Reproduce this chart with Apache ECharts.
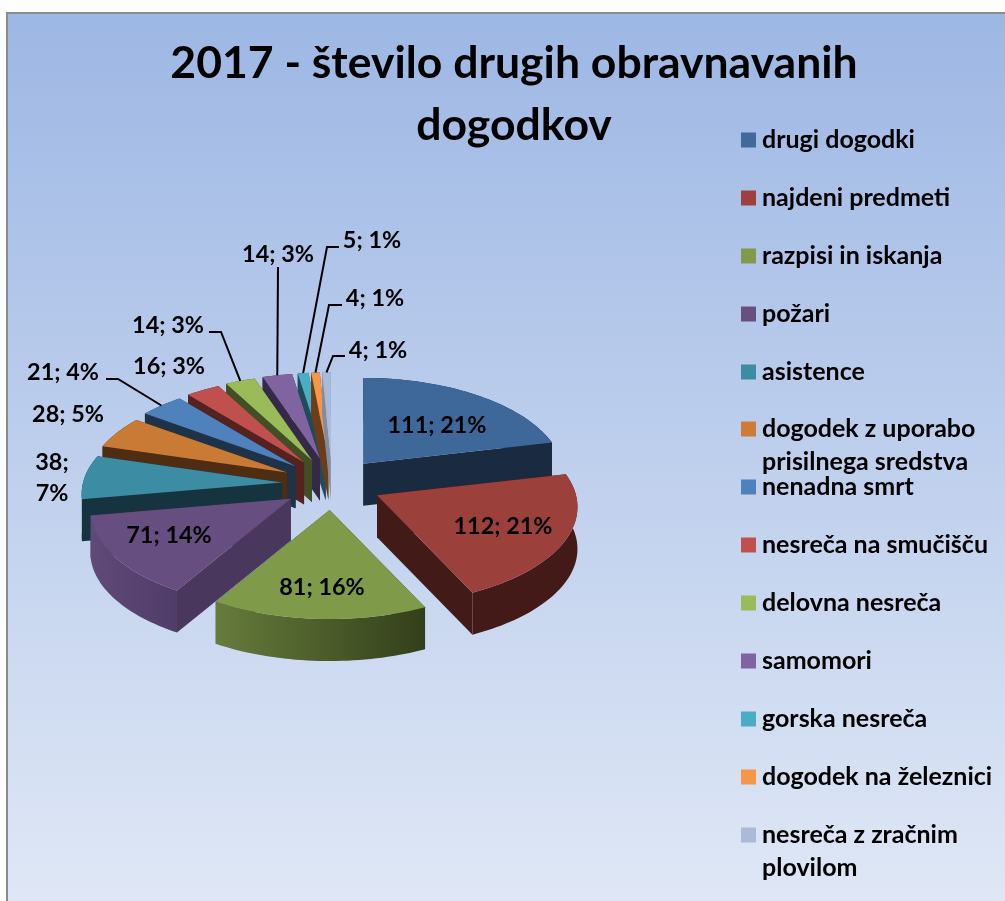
<!DOCTYPE html>
<html><head><meta charset="utf-8">
<style>html,body{margin:0;padding:0;background:#fff}#c{width:1005px;height:901px}</style>
<script src="https://cdn.jsdelivr.net/npm/echarts@6/dist/echarts.min.js"></script>
</head><body><div id="c"></div>
<script>
const titleText = '2017 - število drugih obravnavanih\ndogodkov';
const categories = ['drugi dogodki','najdeni predmeti','razpisi in iskanja','požari','asistence',
  'dogodek z uporabo\nprisilnega sredstva','nenadna smrt','nesreča na smučišču','delovna nesreča',
  'samomori','gorska nesreča','dogodek na železnici','nesreča z zračnim\nplovilom'];
const values = [111,112,81,71,38,28,21,16,14,14,5,4,4];
const percents = [21,21,16,14,7,5,4,3,3,3,1,1,1];

const topColors = ['#3E6899','#9C403C','#7F9A48','#664E80','#3C8CA3','#C97A35','#4F81BD','#C0504D','#9BBB59','#8064A2','#4BACC6','#F79646','#AABBD9'];
const sideColors = ['#1A2A40','#421A18','#35401C','#4A375E','#16343F','#4F2D12','#1E3248','#552220','#414F25','#35294A','#1F4C58','#6B3D18','#7F8CA3'];
const rimLeft = ['#1A2A40','#431A18','#667C3C','#604A78','#16343F','#4F2D12','#1E3248','#552220','#414F25','#35294A','#1F4C58','#6B3D18','#7F8CA3'];
const rimRight = ['#1A2A40','#431A18','#333F1A','#503C68','#16343F','#4F2D12','#1E3248','#552220','#414F25','#35294A','#1F4C58','#6B3D18','#7F8CA3'];
const legendColors = ['#416A9A','#9E413E','#80994A','#67507F','#3C8CA4','#CC7B38','#4F81BD','#C0504D','#9BBB59','#8064A2','#4BACC6','#F79646','#AABAD7'];

/* label anchors (centre of text), and optional leader-line knee points */
const labelAt = [[437,425],[503,526],[322,587],[169,535],[52,478],[68,414],[63,372],[169,366],[168,325],[278,254],[372,240],[375,298],[378,350]];
const leaders = {6:[[106,379],[118,379]],8:[[209,332],[221,332]],9:[[278,267]],10:[[339,247],[327,247]],11:[[342,305],[329,305]],12:[[345,356],[333,356]]};
const labelText = values.map((v,i)=> i===4 ? v+';\n'+percents[i]+'%' : v+'; '+percents[i]+'%');

const FONT = 'Lato, Carlito, Calibri, sans-serif';
const GEO = {cx:332, cy:484, ex:50, ey:26, rx:199, ry:96, p:0.12, depth:42};
const total = values.reduce((a,b)=>a+b,0);
let acc = 0;
const spans = values.map(v=>{const s=acc/total*360; acc+=v; return [s,acc/total*360];});

function rad(d){return d*Math.PI/180;}
function apex(i){
  const m = rad((spans[i][0]+spans[i][1])/2);
  return [GEO.cx+GEO.ex*Math.sin(m), GEO.cy-GEO.ey*Math.cos(m)];
}
function rim(i,deg){
  const a=apex(i), u=Math.sin(rad(deg)), v=-Math.cos(rad(deg)), f=1/(1-GEO.p*v);
  return [a[0]+GEO.rx*u*f, a[1]+GEO.ry*v*f];
}
function down(pt){return [pt[0],pt[1]+GEO.depth];}

function makeRender(i){
  return function(params,api){
    const [s,e] = spans[i];
    const a = apex(i);
    const arc=[];
    const n=Math.max(4,Math.ceil((e-s)/1.5));
    for(let k=0;k<=n;k++) arc.push(rim(i,s+(e-s)*k/n));
    const flat = {silent:true};
    const kids=[];
    [arc[0],arc[n]].forEach(p=>{
      kids.push(Object.assign({type:'polygon',shape:{points:[a,p,down(p),down(a)]},style:{fill:sideColors[i]}},flat));
    });
    kids.push(Object.assign({type:'polygon',shape:{points:arc.concat(arc.slice().reverse().map(down))},
      style:{fill:new echarts.graphic.LinearGradient(0,0,1,0,[{offset:0,color:rimLeft[i]},{offset:1,color:rimRight[i]}])}},flat));
    kids.push(Object.assign({type:'polygon',shape:{points:[a].concat(arc)},style:{fill:topColors[i]}},flat));
    if(leaders[i]){
      const mid = rim(i,(s+e)/2);
      kids.push(Object.assign({type:'polyline',shape:{points:leaders[i].concat([mid])},style:{fill:'none',stroke:'#000',lineWidth:2}},flat));
    }
    kids.push(Object.assign({type:'text',style:{text:labelText[i],x:labelAt[i][0],y:labelAt[i][1],
      font:'bold 23.4px '+FONT,fill:'#000',align:'center',verticalAlign:'middle',lineHeight:31}},flat));
    return {type:'group',children:kids};
  };
}

const series = categories.map((name,i)=>{
  const m = rad((spans[i][0]+spans[i][1])/2);
  return {type:'custom',coordinateSystem:'none',name,z:10+Math.round((1-Math.cos(m))*50),
    data:[[values[i]]],renderItem:makeRender(i),animation:false,silent:true,
    itemStyle:{color:legendColors[i]}};
});

function legendBlock(from,to,top){
  return {orient:'vertical',left:741,top,itemWidth:15,itemHeight:15,itemGap:25,icon:'rect',selectedMode:false,
    padding:0,data:categories.slice(from,to).map((name,k)=>({name,icon:'rect',itemStyle:{color:legendColors[from+k]}})),
    formatter:name=>name.indexOf('\n')>=0 ? '\n'+name : name,
    textStyle:{fontFamily:FONT,fontWeight:'bold',fontSize:25,color:'#000',lineHeight:33,padding:[0,0,0,1]}};
}

const chart = echarts.init(document.getElementById('c'),null,{renderer:'canvas'});
chart.setOption({
  animation:false,
  title:{text:titleText,left:509,top:28,textAlign:'center',
    textStyle:{fontFamily:FONT,fontWeight:'bold',fontSize:44.5,lineHeight:62,color:'#000'}},
  graphic:[{type:'rect',z:-10,silent:true,shape:{x:7,y:13,width:1010,height:900},
    style:{fill:new echarts.graphic.LinearGradient(0,0,0,1,[{offset:0,color:'#9DB7E4'},{offset:1,color:'#E0E8F6'}]),stroke:'#8C8C8C',lineWidth:2}}],
  legend:[legendBlock(0,5,123.5),legendBlock(5,6,379.5),legendBlock(6,12,470.5),legendBlock(12,13,785.5)],
  series
});
</script></body></html>
